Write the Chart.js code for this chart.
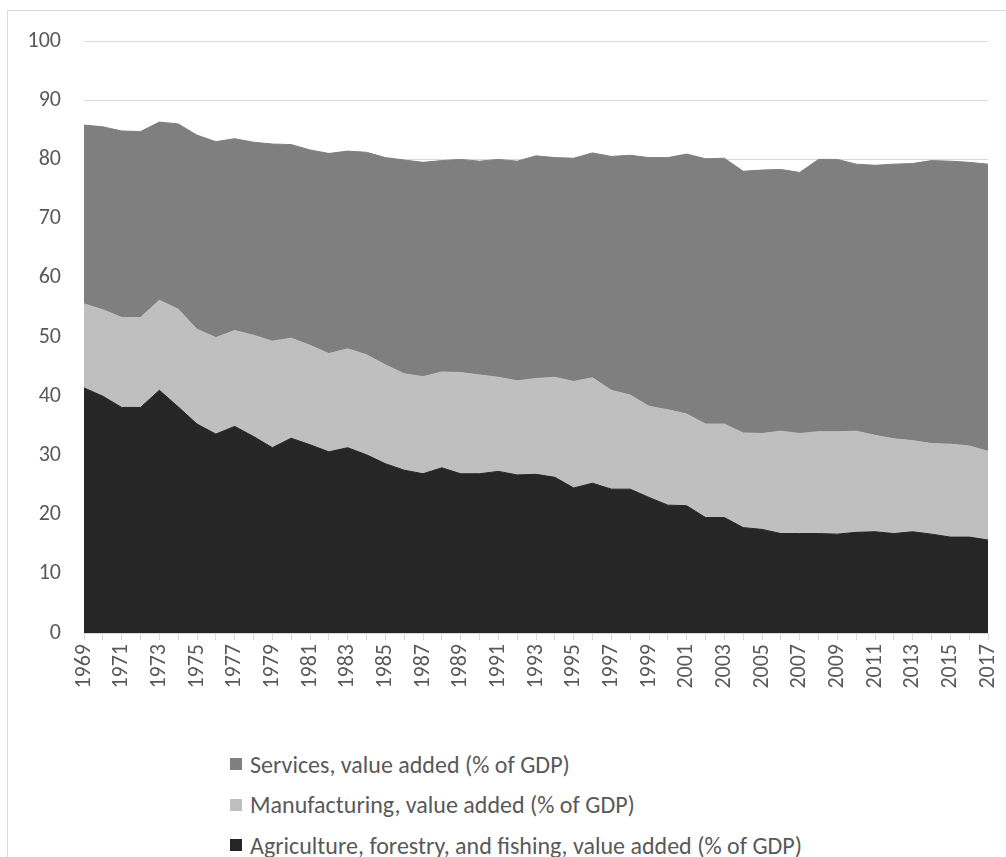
<!DOCTYPE html>
<html>
<head>
<meta charset="utf-8">
<script src="https://cdn.jsdelivr.net/npm/chart.js@4.4.1/dist/chart.umd.min.js"></script>
<style>
  html, body { margin: 0; padding: 0; background: #fff; overflow: hidden; }
  body { width: 1006px; height: 857px; position: relative; font-family: "Carlito", "Lato", sans-serif; }
  .frame { position: absolute; left: 7px; top: 10px; width: 1100px; height: 900px; border: 1px solid #d9d9d9; }
  .plot { position: absolute; left: 0; top: 0; width: 1006px; height: 740px; }
  #legend { position: absolute; left: 230px; top: 744px; margin: 0; padding: 0; list-style: none; }
  #legend li { display: flex; align-items: center; height: 40.5px; font-size: 24px; color: #595959; }
  #legend .box { width: 12px; height: 12px; margin-right: 8px; }
</style>
</head>
<body>
<div class="frame"></div>
<div class="plot"><canvas id="areaChart"></canvas></div>
<ul id="legend"></ul>
<script>
// years on the x axis
const years = ['1969','1970','1971','1972','1973','1974','1975','1976','1977','1978',
  '1979','1980','1981','1982','1983','1984','1985','1986','1987','1988',
  '1989','1990','1991','1992','1993','1994','1995','1996','1997','1998',
  '1999','2000','2001','2002','2003','2004','2005','2006','2007','2008',
  '2009','2010','2011','2012','2013','2014','2015','2016','2017'];

// % of GDP
const agriculture = [41.4, 40.0, 38.1, 38.1, 41.0, 38.2, 35.3, 33.6, 34.9, 33.2,
  31.3, 32.9, 31.8, 30.6, 31.3, 30.1, 28.6, 27.5, 26.9, 27.9,
  26.9, 26.9, 27.3, 26.7, 26.8, 26.3, 24.5, 25.3, 24.3, 24.3,
  22.9, 21.6, 21.5, 19.5, 19.5, 17.8, 17.5, 16.8, 16.8, 16.8,
  16.7, 17.0, 17.1, 16.8, 17.1, 16.7, 16.2, 16.2, 15.7];

const manufacturing = [14.2, 14.6, 15.2, 15.2, 15.2, 16.5, 16.0, 16.3, 16.2, 17.1,
  18.0, 16.9, 16.8, 16.6, 16.7, 16.9, 16.7, 16.3, 16.4, 16.2,
  17.1, 16.7, 15.9, 15.9, 16.2, 16.9, 18.0, 17.8, 16.7, 15.9,
  15.4, 16.1, 15.5, 15.8, 15.8, 16.0, 16.2, 17.3, 16.9, 17.2,
  17.3, 17.1, 16.3, 16.0, 15.4, 15.3, 15.7, 15.4, 15.0];

const services = [30.2, 30.9, 31.5, 31.4, 30.1, 31.3, 32.8, 33.1, 32.4, 32.6,
  33.3, 32.7, 33.0, 33.8, 33.4, 34.2, 35.0, 36.1, 36.2, 35.7,
  36.0, 36.1, 36.8, 37.1, 37.6, 37.1, 37.7, 38.0, 39.5, 40.5,
  42.0, 42.6, 43.9, 44.8, 44.9, 44.2, 44.5, 44.2, 44.1, 46.0,
  46.0, 45.1, 45.6, 46.4, 46.8, 47.8, 47.8, 47.9, 48.5];

const yTicks = [0, 10, 20, 30, 40, 50, 60, 70, 80, 90, 100];

const fontFamily = '"Carlito", "Lato", sans-serif';
const textColor = '#595959';
const gridColor = '#d9d9d9';

function area(label, data, color, fill) {
  return {
    label: label,
    data: data,
    backgroundColor: color,
    borderColor: color,
    borderWidth: 1,
    pointRadius: 0,
    pointHoverRadius: 0,
    tension: 0,
    fill: fill
  };
}

const chart = new Chart(document.getElementById('areaChart'), {
  type: 'line',
  data: {
    labels: years,
    datasets: [
      area('Agriculture, forestry, and fishing, value added (% of GDP)', agriculture, '#262626', 'origin'),
      area('Manufacturing, value added (% of GDP)', manufacturing, '#bfbfbf', '-1'),
      area('Services, value added (% of GDP)', services, '#7f7f7f', '-1')
    ]
  },
  options: {
    responsive: true,
    maintainAspectRatio: false,
    animation: false,
    layout: { padding: { left: 0, right: 18, top: 41, bottom: 0 } },
    plugins: {
      legend: { display: false },
      tooltip: { enabled: false }
    },
    scales: {
      x: {
        afterFit: (scale) => {
          scale.height = 107;
          // rotated labels should not push the plot area in
          scale.paddingLeft = 0;
          scale.paddingRight = 0;
        },
        grid: { drawOnChartArea: false, drawTicks: true, tickLength: 7, color: gridColor },
        border: { display: true, color: gridColor },
        ticks: {
          autoSkip: false,
          maxRotation: 90,
          minRotation: 90,
          padding: 4,
          color: textColor,
          font: { family: fontFamily, size: 22 },
          callback: function (val, idx) { return idx % 2 === 0 ? this.getLabelForValue(val) : ''; }
        }
      },
      y: {
        stacked: true,
        min: yTicks[0],
        max: yTicks[yTicks.length - 1],
        afterFit: (scale) => { scale.width = 84; },
        afterBuildTicks: (scale) => { scale.ticks = yTicks.map(v => ({ value: v })); },
        grid: { color: gridColor, drawTicks: false },
        border: { display: false },
        ticks: {
          padding: 23,
          color: textColor,
          font: { family: fontFamily, size: 22 }
        }
      }
    }
  }
});

// legend as a vertical list, top series first
const legend = document.getElementById('legend');
chart.data.datasets.slice().reverse().forEach(ds => {
  const li = document.createElement('li');
  const box = document.createElement('span');
  box.className = 'box';
  box.style.background = ds.backgroundColor;
  li.appendChild(box);
  li.appendChild(document.createTextNode(ds.label));
  legend.appendChild(li);
});
</script>
</body>
</html>
